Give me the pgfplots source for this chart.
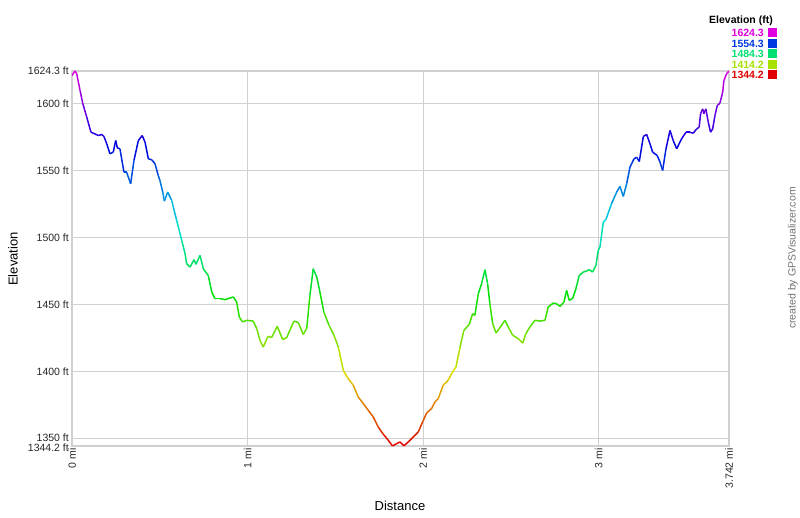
\documentclass[border=0pt]{standalone}
\usepackage{fontspec}
\setmainfont{Liberation Sans}
\usepackage{pgfplots}
\pgfplotsset{compat=1.18}

\definecolor{gridgray}{RGB}{208,208,208}
\definecolor{lgmag}{RGB}{224,0,224}
\definecolor{lgblue}{RGB}{0,56,224}
\definecolor{lggreen}{RGB}{0,224,112}
\definecolor{lgyel}{RGB}{168,224,0}
\definecolor{lgred}{RGB}{224,0,0}

\begin{document}
\begin{tikzpicture}[x=1pt,y=1pt]
\path[use as bounding box] (0,0) rectangle (800,517);
\begin{axis}[
at={(72pt,71pt)}, anchor=south west,
width=657pt, height=375pt, scale only axis,
xmin=0, xmax=3.742, ymin=1344.2, ymax=1624.3,
axis line style={gridgray, line width=1.5pt},
grid=major, major grid style={gridgray, line width=1.3pt},
major tick length=0pt,
xtick={0,1,2,3,3.742},
xticklabels={0 mi,1 mi,2 mi,3 mi,3.742 mi},
ytick={1350,1400,1450,1500,1550,1600,1624.3},
yticklabels={1350 ft,1400 ft,1450 ft,1500 ft,1550 ft,1600 ft,1624.3 ft},
extra y ticks={1344.2},
extra y tick labels={1344.2 ft},
extra y tick style={yticklabel style={yshift=-2pt}},
tick label style={font=\fontsize{10.5}{12}\selectfont, black!85},
xticklabel style={rotate=90, anchor=east, inner sep=2pt},
yticklabel style={anchor=east, inner xsep=3pt, inner ysep=0pt},
colormap={hue}{rgb255(0)=(224,0,0) rgb255(1)=(224,224,0) rgb255(2)=(0,224,0) rgb255(3)=(0,224,224) rgb255(4)=(0,0,224) rgb255(5)=(224,0,224)},
point meta min=1344.2, point meta max=1624.3,
]
\addplot[mesh, point meta=y, line width=1.5pt] coordinates {
(0.000,1620.9) (0.017,1624.3) (0.027,1622.2) (0.046,1609.7) (0.061,1600.2)
(0.084,1589.8) (0.108,1578.6) (0.137,1576.9) (0.150,1576.1) (0.169,1576.9)
(0.182,1575.4) (0.198,1569.9) (0.216,1562.5) (0.235,1563.7) (0.249,1572.4)
(0.258,1566.9) (0.273,1566.2) (0.296,1548.7) (0.311,1548.7) (0.334,1540.1)
(0.353,1557.5) (0.378,1572.4) (0.400,1576.1) (0.416,1571.1) (0.435,1558.7)
(0.454,1558.0) (0.473,1555.0) (0.491,1546.3) (0.501,1542.5) (0.517,1533.8)
(0.526,1527.1) (0.545,1533.8) (0.568,1527.6) (0.596,1512.7) (0.625,1497.8)
(0.644,1487.8) (0.653,1480.4) (0.672,1477.8) (0.695,1483.4) (0.706,1479.9)
(0.729,1486.6) (0.748,1476.6) (0.776,1471.6) (0.796,1459.2) (0.814,1454.3)
(0.843,1454.3) (0.871,1453.5) (0.890,1454.3) (0.919,1455.5) (0.938,1451.7)
(0.953,1440.5) (0.972,1436.8) (0.995,1438.1) (1.032,1437.5) (1.052,1431.9)
(1.071,1423.1) (1.089,1418.1) (1.116,1426.1) (1.137,1425.2) (1.169,1433.6)
(1.200,1423.7) (1.223,1425.2) (1.264,1437.5) (1.289,1436.4) (1.317,1427.5)
(1.337,1432.1) (1.355,1456.7) (1.374,1476.6) (1.394,1470.4) (1.412,1459.2)
(1.435,1444.0) (1.464,1434.3) (1.492,1426.9) (1.517,1418.1) (1.545,1400.7)
(1.573,1394.6) (1.602,1389.6) (1.630,1380.8) (1.659,1375.9) (1.687,1370.9)
(1.716,1365.9) (1.744,1358.4) (1.773,1353.0) (1.801,1348.5) (1.826,1344.2)
(1.849,1346.0) (1.868,1347.2) (1.891,1344.4) (1.915,1347.2) (1.944,1351.0)
(1.972,1354.7) (1.997,1362.2) (2.020,1368.9) (2.048,1372.2) (2.067,1377.1)
(2.086,1379.6) (2.114,1389.6) (2.143,1393.3) (2.162,1398.3) (2.187,1403.3)
(2.210,1418.1) (2.232,1430.6) (2.263,1435.1) (2.282,1443.1) (2.295,1441.8)
(2.314,1458.0) (2.333,1465.5) (2.352,1475.9) (2.367,1465.5) (2.380,1450.5)
(2.396,1435.6) (2.415,1428.6) (2.437,1432.6) (2.466,1438.1) (2.485,1433.1)
(2.510,1426.9) (2.542,1424.4) (2.567,1421.1) (2.585,1428.1) (2.608,1433.1)
(2.637,1438.1) (2.665,1437.5) (2.694,1438.1) (2.712,1448.0) (2.741,1451.0)
(2.760,1450.5) (2.779,1448.5) (2.802,1451.7) (2.817,1460.4) (2.832,1453.0)
(2.851,1454.3) (2.870,1461.7) (2.889,1471.6) (2.912,1474.1) (2.931,1474.9)
(2.946,1475.9) (2.965,1474.1) (2.984,1479.1) (2.997,1490.3) (3.007,1492.8)
(3.026,1511.4) (3.041,1513.4) (3.073,1525.2) (3.102,1533.8) (3.121,1538.1)
(3.140,1530.6) (3.159,1540.1) (3.178,1552.5) (3.201,1558.7) (3.216,1559.9)
(3.231,1556.7) (3.254,1575.4) (3.273,1576.9) (3.292,1569.9) (3.307,1563.7)
(3.333,1561.2) (3.349,1556.2) (3.364,1550.0) (3.383,1566.2) (3.406,1579.9)
(3.424,1572.4) (3.444,1566.2) (3.472,1573.7) (3.497,1578.6) (3.519,1578.6)
(3.538,1577.8) (3.558,1581.1) (3.572,1582.3) (3.580,1592.3) (3.592,1596.0)
(3.599,1592.3) (3.610,1596.0) (3.624,1586.0) (3.637,1578.6) (3.649,1581.1)
(3.662,1591.0) (3.675,1598.5) (3.690,1600.2) (3.706,1608.4) (3.713,1617.2)
(3.728,1622.2) (3.742,1624.3)
};
\end{axis}
% axis titles
\node[font=\fontsize{13}{15}\selectfont, rotate=90] at (13,258) {Elevation};
\node[font=\fontsize{13}{15}\selectfont] at (400,11) {Distance};
\node[font=\fontsize{10.5}{12}\selectfont, rotate=90, text=black!55] at (793,259) {created by GPSVisualizer.com};
% legend
\node[font=\bfseries\fontsize{10.5}{12}\selectfont, anchor=east, inner sep=0pt] at (773,496.5) {Elevation (ft)};
\foreach \c/\v/\yy in {lgmag/1624.3/484, lgblue/1554.3/473.5, lggreen/1484.3/463, lgyel/1414.2/452.5, lgred/1344.2/442}{
  \node[font=\bfseries\fontsize{10.5}{12}\selectfont, text=\c, anchor=east, inner sep=0pt] at (764,\yy) {\v};
  \fill[\c] (768,\yy-4.5) rectangle (777,\yy+4.5);
}
\end{tikzpicture}
\end{document}
